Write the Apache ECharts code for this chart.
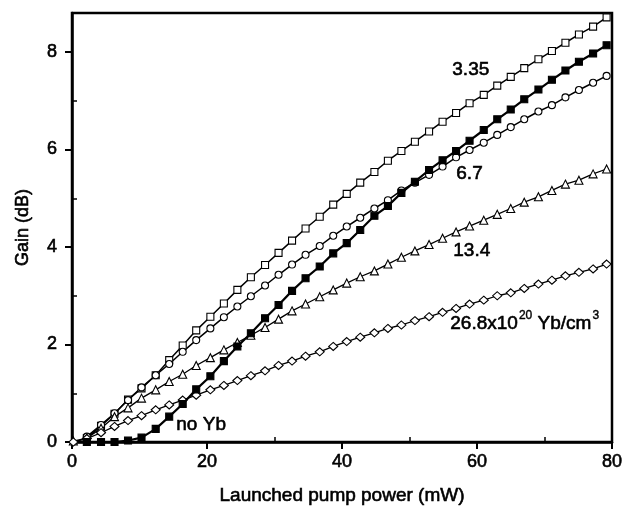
<!DOCTYPE html>
<html>
<head>
<meta charset="utf-8">
<script src="https://cdn.jsdelivr.net/npm/echarts@6/dist/echarts.min.js"></script>
<style>
  html, body { margin: 0; padding: 0; background: #fff; }
  #gainChart { width: 631px; height: 514px; }
</style>
</head>
<body>
<div id="gainChart"></div>
<script>
// pump power (mW) of the measured points, shared by all curves
var pumpPower = [0.2, 2.2, 4.3, 6.3, 8.3, 10.3, 12.4, 14.4, 16.4, 18.4,
    20.5, 22.5, 24.5, 26.5, 28.6, 30.6, 32.6, 34.6, 36.7, 38.7,
    40.7, 42.7, 44.8, 46.8, 48.8, 50.8, 52.9, 54.9, 56.9, 58.9,
    61.0, 63.0, 65.0, 67.0, 69.1, 71.1, 73.1, 75.1, 77.2, 79.2]

// gain (dB), null where the curve has no point
var gain335 = [null, 0.08, 0.33, 0.58, 0.87, 1.1, 1.37, 1.68, 1.98, 2.29,
    2.57, 2.84, 3.12, 3.38, 3.63, 3.88, 4.13, 4.38, 4.62, 4.87,
    5.09, 5.32, 5.54, 5.77, 5.97, 6.16, 6.37, 6.57, 6.75, 6.95,
    7.12, 7.31, 7.49, 7.67, 7.85, 8.02, 8.19, 8.36, 8.52, 8.71]
var gainNoYb = [null, 0, 0, 0, 0.03, 0.09, 0.27, 0.52, 0.78, 1.08,
    1.35, 1.66, 1.96, 2.23, 2.54, 2.81, 3.1, 3.36, 3.6, 3.87,
    4.08, 4.35, 4.64, 4.84, 5.11, 5.34, 5.58, 5.78, 5.97, 6.18,
    6.4, 6.62, 6.82, 7.03, 7.23, 7.43, 7.62, 7.8, 7.97, 8.14]
var gain67 = [null, 0.11, 0.35, 0.59, 0.86, 1.12, 1.37, 1.6, 1.85, 2.09,
    2.33, 2.56, 2.78, 2.99, 3.21, 3.43, 3.64, 3.84, 4.02, 4.23,
    4.42, 4.6, 4.79, 4.96, 5.16, 5.32, 5.48, 5.65, 5.84, 5.99,
    6.14, 6.3, 6.46, 6.62, 6.78, 6.91, 7.07, 7.22, 7.37, 7.51]
var gain134 = [0.02, 0.08, 0.28, 0.52, 0.7, 0.9, 1.07, 1.24, 1.39, 1.57,
    1.73, 1.89, 2.04, 2.19, 2.35, 2.52, 2.69, 2.83, 2.98, 3.12,
    3.26, 3.39, 3.51, 3.65, 3.79, 3.92, 4.05, 4.18, 4.31, 4.43,
    4.55, 4.67, 4.79, 4.92, 5.03, 5.16, 5.29, 5.37, 5.5, 5.6]
var gain268 = [0, 0.07, 0.19, 0.32, 0.44, 0.54, 0.66, 0.76, 0.86, 0.96,
    1.07, 1.16, 1.26, 1.36, 1.46, 1.57, 1.66, 1.76, 1.85, 1.96,
    2.06, 2.15, 2.24, 2.33, 2.4, 2.49, 2.57, 2.66, 2.74, 2.83,
    2.91, 3.0, 3.06, 3.15, 3.24, 3.32, 3.41, 3.48, 3.55, 3.65]

var xTicks = [0, 20, 40, 60, 80]
var xMinorTicks = [10, 30, 50, 70]
var yTicks = [0, 2, 4, 6, 8]
var yMinorTicks = [1, 3, 5, 7]

var fontName = 'Liberation Sans, Arial, sans-serif'
// slightly heavier text, like the scanned original
var heavy = { textBorderColor: '#000', textBorderWidth: 0.6 }

function pairs (ys) {
    var out = []
    for (var i = 0; i < ys.length; i++) {
        if (ys[i] !== null) out.push([pumpPower[i], ys[i]])
    }
    return out
}

function curve (name, ys, symbol, size, filled, lineWidth) {
    return {
        name: name,
        type: 'line',
        data: pairs(ys),
        symbol: symbol,
        symbolSize: size,
        showAllSymbol: true,
        lineStyle: { color: '#000', width: lineWidth },
        itemStyle: {
            color: filled ? '#000' : '#fff',
            borderColor: '#000',
            borderWidth: 1.1
        },
        z: filled ? 3 : 2
    }
}

function txt (left, top, text) {
    return {
        type: 'text', left: left, top: top,
        style: { text: text, font: '19px ' + fontName, fill: '#000', stroke: '#000', lineWidth: 0.6 }
    }
}

var gainChart = echarts.init(document.getElementById('gainChart'))
gainChart.setOption({
    animation: false,
    backgroundColor: '#fff',
    grid: {
        left: 72,
        right: 19,
        top: 13,
        bottom: 72,
        show: true,
        borderColor: '#000',
        borderWidth: 2.5
    },
    xAxis: [
        {
            type: 'value',
            min: 0,
            max: 80,
            interval: 20,
            name: 'Launched pump power (mW)',
            nameLocation: 'middle',
            nameGap: 44,
            nameTextStyle: Object.assign({ fontFamily: fontName, fontSize: 19, color: '#000' }, heavy),
            axisLine: { lineStyle: { color: '#000', width: 2.5 } },
            axisTick: { customValues: xTicks, length: 7, lineStyle: { color: '#000', width: 2 } },
            axisLabel: Object.assign({ customValues: xTicks, margin: 11, fontFamily: fontName, fontSize: 18, color: '#000' }, heavy),
            splitLine: { show: false }
        },
        {
            type: 'value',
            position: 'bottom',
            min: 0,
            max: 80,
            axisLine: { show: false },
            axisTick: { customValues: xMinorTicks, inside: true, length: 5, lineStyle: { color: '#000', width: 1.5 } },
            axisLabel: { show: false },
            splitLine: { show: false }
        }
    ],
    yAxis: [
        {
            type: 'value',
            min: 0,
            max: 8.8,
            name: 'Gain (dB)',
            nameLocation: 'middle',
            nameGap: 40,
            nameTextStyle: Object.assign({ fontFamily: fontName, fontSize: 18, color: '#000' }, heavy),
            axisLine: { lineStyle: { color: '#000', width: 2.5 } },
            axisTick: { customValues: yTicks, length: 7, lineStyle: { color: '#000', width: 2 } },
            axisLabel: Object.assign({ customValues: yTicks, margin: 15, fontFamily: fontName, fontSize: 18, color: '#000' }, heavy),
            splitLine: { show: false }
        },
        {
            type: 'value',
            position: 'left',
            min: 0,
            max: 8.8,
            axisLine: { show: false },
            axisTick: { customValues: yMinorTicks, inside: true, length: 5, lineStyle: { color: '#000', width: 1.5 } },
            axisLabel: { show: false },
            splitLine: { show: false }
        }
    ],
    series: [
        curve('3.35', gain335, 'rect', 7, false, 1.5),
        curve('6.7', gain67, 'circle', 7, false, 1.5),
        curve('13.4', gain134, 'triangle', 8, false, 1.3),
        curve('26.8', gain268, 'diamond', [9, 8], false, 1.3),
        curve('no Yb', gainNoYb, 'rect', 7, true, 2.2)
    ],
    graphic: [
        txt(452, 60, '3.35'),
        txt(456, 164, '6.7'),
        txt(453, 241, '13.4'),
        {
            type: 'text', left: 450, top: 309,
            style: {
                text: '{m|26.8x10}{s|20}{m| Yb/cm}{s|3}',
                rich: {
                    m: { fontFamily: fontName, fontSize: 19, fill: '#000', stroke: '#000', lineWidth: 0.6, verticalAlign: 'bottom', padding: [5, 0, 0, 0] },
                    s: { fontFamily: fontName, fontSize: 12, fill: '#000', stroke: '#000', lineWidth: 0.4, verticalAlign: 'top', padding: [0, 0, 0, 1] }
                }
            }
        },
        txt(176, 415, 'no Yb')
    ]
})
</script>
</body>
</html>
